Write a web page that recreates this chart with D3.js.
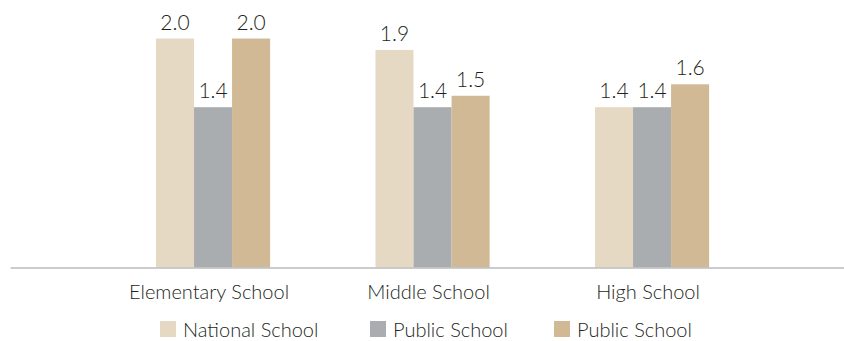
<!DOCTYPE html>
<html>
<head>
<meta charset="utf-8">
<script src="https://cdn.jsdelivr.net/npm/d3@7"></script>
<style>
  html, body { margin: 0; padding: 0; background: #ffffff; }
  svg { display: block; }
  text { font-family: Lato, "Open Sans", sans-serif; font-weight: 300; fill: #231f20; }
</style>
</head>
<body>
<svg id="chart" width="844" height="341"></svg>
<script>
// School levels along the x axis
const categories = ["Elementary School", "Middle School", "High School"];
// Legend names, one per series
const seriesNames = ["National School", "Public School", "Public School"];
// Values per series, in category order
const nationalValues = [2.0, 1.9, 1.4];
const publicValuesA = [1.4, 1.4, 1.4];
const publicValuesB = [2.0, 1.5, 1.6];
const seriesColors = ["#e5d9c4", "#aaadb0", "#d2b995"];

const seriesValues = [nationalValues, publicValuesA, publicValuesB];

const svg = d3.select("#chart");
const baseline = 267.5;

const x0 = d3.scaleBand()
  .domain(categories)
  .range([103.3, 761.8])
  .paddingInner(0.48)
  .paddingOuter(0.24);

const x1 = d3.scaleBand()
  .domain(d3.range(seriesNames.length))
  .range([0, x0.bandwidth()])
  .padding(0);

const y = d3.scaleLinear()
  .domain([0, 2.0])
  .range([baseline, 38.5]);

// Bars grouped by school level
const groups = svg.append("g")
  .selectAll("g")
  .data(categories)
  .join("g")
  .attr("transform", d => `translate(${x0(d)},0)`);

groups.selectAll("rect")
  .data((c, ci) => seriesValues.map((vals, si) => ({ si, v: vals[ci] })))
  .join("rect")
  .attr("x", d => x1(d.si))
  .attr("width", x1.bandwidth())
  .attr("y", d => y(d.v))
  .attr("height", d => baseline - y(d.v))
  .attr("fill", d => seriesColors[d.si]);

// Value labels above each bar
groups.selectAll("text.value")
  .data((c, ci) => seriesValues.map((vals, si) => ({ si, v: vals[ci] })))
  .join("text")
  .attr("class", "value")
  .attr("x", d => x1(d.si) + x1.bandwidth() / 2)
  .attr("y", d => y(d.v) - 9)
  .attr("text-anchor", "middle")
  .style("font-size", "21px")
  .text(d => d3.format(".1f")(d.v));

// Baseline axis
const xAxis = d3.axisBottom(x0).tickSize(0).tickPadding(0);
const axisG = svg.append("g")
  .attr("transform", `translate(0,${baseline})`)
  .call(xAxis);
axisG.select(".domain").remove();
axisG.append("line")
  .attr("x1", 10.5).attr("x2", 844)
  .attr("y1", 0.5).attr("y2", 0.5)
  .attr("stroke", "#b9bbbd")
  .attr("stroke-width", 1.5);
axisG.selectAll(".tick text")
  .attr("dy", null)
  .attr("y", 31.5)
  .attr("x", -4)
  .style("font-size", "20px")
  .style("font-family", "Lato, 'Open Sans', sans-serif")
  .style("font-weight", "300")
  .style("fill", "#231f20");

// Legend
const legendX = [160, 370, 554];
const legend = svg.append("g")
  .selectAll("g")
  .data(seriesNames)
  .join("g")
  .attr("transform", (d, i) => `translate(${legendX[i]},321)`);
legend.append("rect")
  .attr("width", 16).attr("height", 16)
  .attr("fill", (d, i) => seriesColors[i]);
legend.append("text")
  .attr("x", 23)
  .attr("y", 16)
  .style("font-size", "20px")
  .text(d => d);
</script>
</body>
</html>
